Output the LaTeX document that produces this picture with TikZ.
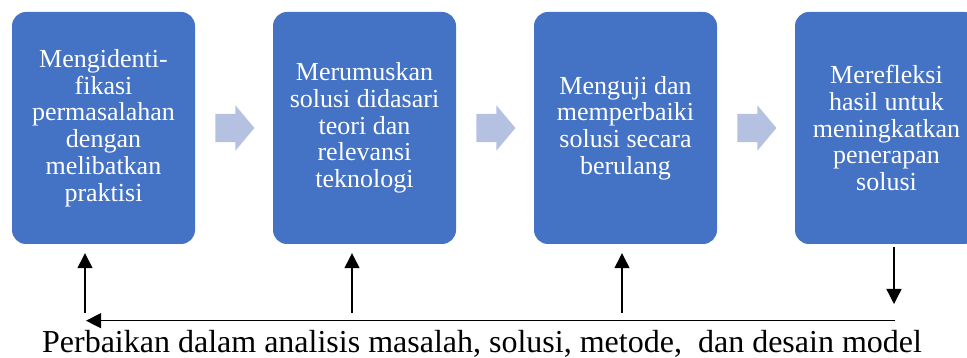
\documentclass[tikz,border=0pt]{standalone}
\usepackage{fontspec}
\setmainfont{Liberation Serif}
\usetikzlibrary{shapes.arrows,arrows.meta}

\definecolor{stepblue}{RGB}{68,114,196}
\definecolor{flowblue}{RGB}{180,193,225}

\tikzstyle{stepbox} = [rectangle, rounded corners=14pt, fill=stepblue,
                       text=white, align=center, inner sep=2pt,
                       minimum width=183pt, minimum height=232pt,
                       font=\fontsize{26}{26.7}\selectfont]
\tikzstyle{flow} = [single arrow, fill=flowblue, draw=none, anchor=tail,
                    inner xsep=0pt, inner ysep=14pt,
                    minimum height=39pt, minimum width=0pt,
                    single arrow head extend=8.5pt,
                    single arrow tip angle=100]
\tikzstyle{fb} = [-{Triangle[length=15pt,width=15pt]}, line width=1.3pt]

\begin{document}
\begin{tikzpicture} [x=1pt, y=1pt]

\def\colT{black};

\clip (0,0) rectangle (967,-358);
\useasboundingbox (0,0) rectangle (967,-358);

% the four steps
\node at (103.5,-128)[stepbox]
      (s1) {Mengidenti-\\fikasi\\permasalahan\\dengan\\melibatkan\\praktisi};

\node at (364.5,-128)[stepbox]
      (s2) {Merumuskan\\solusi didasari\\teori dan\\relevansi\\teknologi};

\node at (625.5,-128)[stepbox]
      (s3) {Menguji dan\\memperbaiki\\solusi secara\\berulang};

\node at (886.5,-128)[stepbox]
      (s4) {Merefleksi\\hasil untuk\\meningkatkan\\penerapan\\solusi};

% block arrows between the steps
\node at ([xshift=20pt]s1.east)[flow] (a1) {};
\node at ([xshift=20pt]s2.east)[flow] (a2) {};
\node at ([xshift=20pt]s3.east)[flow] (a3) {};

% feedback loop
\coordinate (d4) at (894,-304);
\coordinate (r) at (895,-320.7);
\coordinate (l) at (86,-320.7);
\coordinate (u1) at (85,-313);
\coordinate (u2) at (352,-313);
\coordinate (u3) at (622,-313);

\draw[fb,\colT]
      ([yshift=-3pt]s4.south -| d4) -- (d4);

\draw[fb,\colT]
      (r) -- (l);

\draw[fb,\colT]
      (u1) -- ([yshift=-9pt]s1.south -| u1);
\draw[fb,\colT]
      (u2) -- ([yshift=-9pt]s2.south -| u2);
\draw[fb,\colT]
      (u3) -- ([yshift=-9pt]s3.south -| u3);

\node at (482,-352)[anchor=base,inner sep=0pt,
      font=\fontsize{32}{34}\selectfont]
      (fbtext) {Perbaikan dalam analisis masalah, solusi, metode,\ \ dan desain model};

\end{tikzpicture}
\end{document}
